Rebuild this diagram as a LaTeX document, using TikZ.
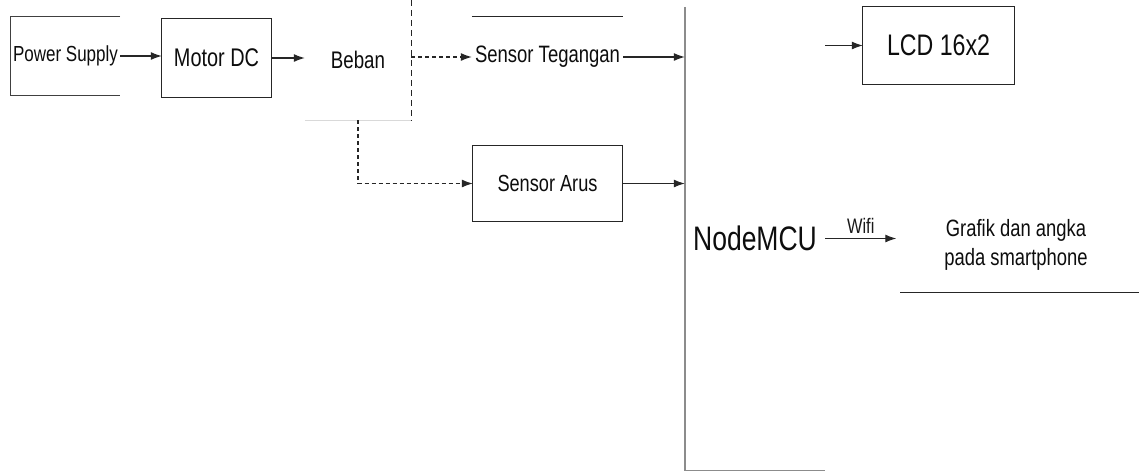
\documentclass[tikz,border=0pt]{standalone}
\usepackage{fontspec}
\newfontfamily\cf[FakeStretch=0.78]{Liberation Sans}
\usetikzlibrary{arrows.meta}
\begin{document}
\begin{tikzpicture}[x=1pt,y=-1pt,
  blk/.style={inner sep=0pt,minimum width=#1,text=black!95},
  ln/.style={line width=1.3pt,black!85},
  arr/.style={line width=1.1pt,black!85,-{Latex[length=11pt,width=8pt]}},
  darr/.style={line width=1.1pt,black!85,dash pattern=on 4pt off 3pt,-{Latex[length=11pt,width=8pt]}},
  dln/.style={line width=1.3pt,black!85,dash pattern=on 6pt off 4pt},
  gln/.style={line width=1.4pt,black!45}]
\useasboundingbox (0,0) rectangle (1139,472);
\fill[white] (0,0) rectangle (1139,472);

\node[blk=109pt,minimum height=78pt,font=\cf\fontsize{21.8}{24}\selectfont] (ps) at (65.5,56) {Power Supply};
\node[blk=109pt,minimum height=78pt,font=\cf\fontsize{25.5}{28}\selectfont] (motor) at (216.5,58) {Motor DC};
\node[blk=106pt,minimum height=120pt,font=\cf\fontsize{24}{27}\selectfont] (beban) at (358,60) {Beban};
\node[blk=151pt,minimum height=80pt,font=\cf\fontsize{23.7}{26}\selectfont] (stg) at (547.5,57) {Sensor Tegangan};
\node[blk=149pt,minimum height=75pt,font=\cf\fontsize{23.3}{26}\selectfont] (sarus) at (547.5,183.5) {Sensor Arus};
\node[blk=140pt,minimum height=463pt,font=\cf\fontsize{34}{38}\selectfont] (mcu) at (755,238.5) {NodeMCU};
\node[blk=151pt,minimum height=77pt,font=\cf\fontsize{29.7}{33}\selectfont] (lcd) at (938.5,45.5) {LCD 16x2};
\node[blk=239pt,minimum height=94pt,align=center,font=\cf\fontsize{23.6}{29}\selectfont] (graf) at (1016,245)
  {Grafik dan angka\\pada smartphone};

% box outlines
\draw[ln,black!75] (ps.north east) -- (ps.north west) -- (ps.south west) -- (ps.south east);
\draw[ln] (motor.north west) rectangle (motor.south east);
\draw[ln] (stg.north west) -- (stg.north east);
\draw[ln] (sarus.north west) rectangle (sarus.south east);
\draw[ln] (lcd.north west) rectangle (lcd.south east);
\draw[ln] ([xshift=4pt]graf.south west) -- ([xshift=4pt]graf.south east);
\draw[gln] (mcu.north west) -- (mcu.south west) -- (mcu.south east);
\draw[line width=0.8pt,black!15] (beban.south west) -- (beban.south east);
\draw[dln] (beban.north east) -- (beban.south east);

% connectors
\draw[arr] (ps.east) -- (ps.east -| motor.west);
\draw[arr] (motor.east) -- (motor.east -| beban.west);
\draw[darr] (beban.east |- stg.west) -- (stg.west);
\draw[darr] (beban.south) |- (sarus.west);
\draw[arr] (stg.east) -- (stg.east -| mcu.west);
\draw[arr] (sarus.east) -- (sarus.east -| mcu.west);
\draw[arr] (lcd.west -| mcu.east) -- (lcd.west);
\draw[arr] (mcu.east) -- node[above=1pt,font=\cf\fontsize{21}{23}\selectfont,text=black!90] (wifi) {Wifi} (mcu.east -| graf.west);
\end{tikzpicture}
\end{document}
